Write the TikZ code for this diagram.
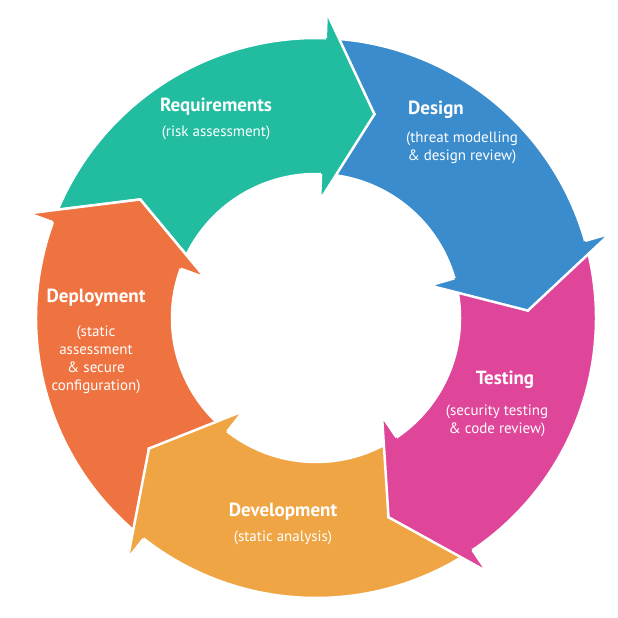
\documentclass[tikz,border=0pt]{standalone}
\usepackage{fontspec}
\setmainfont{PT Sans}
\definecolor{creq}{HTML}{22BDA1}
\definecolor{cdes}{HTML}{3A8CCD}
\definecolor{ctes}{HTML}{DF4699}
\definecolor{cdev}{HTML}{F0A545}
\definecolor{cdep}{HTML}{EE7340}
\tikzset{seg/.style={draw=white,line width=2.5pt,line join=miter},
 ttl/.style={text=white,font=\bfseries\fontsize{19}{22}\selectfont,inner sep=0pt},
 sub/.style={text=white,font=\fontsize{15}{18}\selectfont,align=center,inner sep=0pt}}
\newcommand{\arrseg}[4]{% color, tail, base, tip
 \pgfmathsetmacro{\nt}{#2-14}
 \fill[#1,seg] (#2:280) arc[start angle=#2,end angle=#3,radius=280] -- (#3:306) -- (#4:212) -- (#3:118) -- (#3:144)
 arc[start angle=#3,end angle=#2,radius=144] -- (\nt:212) -- cycle;}
\newcommand{\arrhead}[3]{% color, base, tip
 \fill[#1] (#2:280) -- (#2:306) -- (#3:212) -- (#2:118) -- (#2:144) -- cycle;
 \draw[seg] (#2:280) -- (#2:306) -- (#3:212) -- (#2:118) -- (#2:144);}
\begin{document}
\begin{tikzpicture}[x=1pt,y=1pt]
\useasboundingbox (0,0) rectangle (618,-618);
\begin{scope}[shift={(316,-318)}]
\arrseg{creq}{160}{88}{74}
\arrseg{cdes}{88}{16}{2}
\arrseg{ctes}{16}{-56}{-70}
\arrseg{cdev}{-56}{-128}{-142}
\arrseg{cdep}{-128}{-200}{-214}
\arrhead{creq}{88}{74}
\arrhead{cdes}{16}{2}
\arrhead{ctes}{-56}{-70}
\arrhead{cdev}{-128}{-142}
\arrhead{cdep}{-200}{-214}
\end{scope}
\node[ttl] (req) at (216,-107) {Requirements};
\node[sub] (reqs) at (216,-133) {(risk assessment)};
\node[ttl] (des) at (436,-110) {Design};
\node[sub] (dess) at (462,-148) {(threat modelling\\\& design review)};
\node[ttl] (tes) at (505,-380) {Testing};
\node[sub] (tess) at (497,-421) {(security testing\\\& code review)};
\node[ttl] (dev) at (283,-512) {Development};
\node[sub] (devs) at (283,-538) {(static analysis)};
\node[ttl] (dep) at (96,-298) {Deployment};
\node[sub] (deps) at (96,-360) {(static\\assessment\\\& secure\\configuration)};
\end{tikzpicture}
\end{document}
